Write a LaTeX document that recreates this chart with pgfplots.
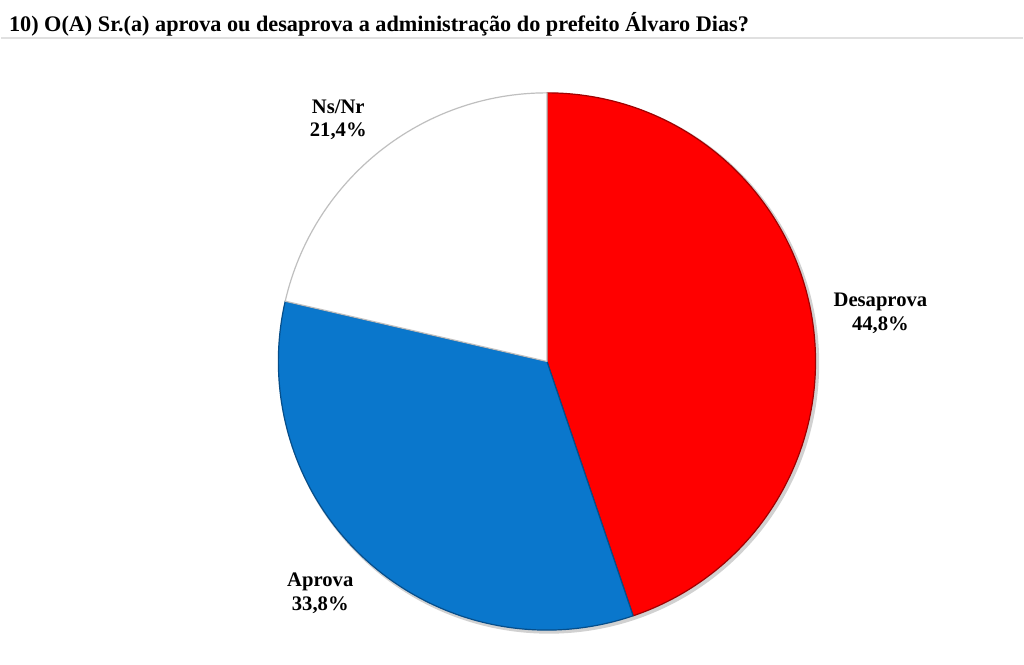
\documentclass[border=0pt]{standalone}
\usepackage{pgfplots}
\pgfplotsset{compat=1.18}
\usepackage{pgfplotstable}
\usepackage{fontspec}
\setmainfont{Liberation Serif}
\definecolor{pieRed}{HTML}{FF0000}
\definecolor{pieRedDark}{HTML}{A00000}
\definecolor{pieBlue}{HTML}{0A77CC}
\definecolor{pieBlueDark}{HTML}{064E8A}
\pgfplotstableread{
label value
Desaprova 44.8
Aprova 33.8
NsNr 21.4
}\piedata
\pgfplotstablegetelem{0}{value}\of\piedata \let\vA\pgfplotsretval
\pgfplotstablegetelem{1}{value}\of\piedata \let\vB\pgfplotsretval
\pgfplotstablegetelem{2}{value}\of\piedata \let\vC\pgfplotsretval
\pgfmathsetmacro{\aA}{90-3.6*\vA}
\pgfmathsetmacro{\aB}{\aA-3.6*\vB}
\pgfmathsetmacro{\aC}{\aB-3.6*\vC}
\begin{document}
\begin{tikzpicture}
\begin{axis}[
  x=0.75pt, y=0.75pt,
  xmin=0, xmax=1024, ymin=0, ymax=649,
  hide axis, clip=false,
]
\path (axis cs:0,0) rectangle (axis cs:1024,649);
% title rule
\draw[color=black!12, line width=1.2pt] (axis cs:0,611) -- (axis cs:1024,611);
\node[anchor=base west, font=\fontsize{16.7}{19}\selectfont\bfseries, inner sep=0pt]
  at (axis cs:8,617) {10) O(A) Sr.(a) aprova ou desaprova a administração do prefeito Álvaro Dias?};
% shadow
\fill[black!18] (axis cs:549,285) circle[radius=203pt];
% wedges
\filldraw[fill=pieRed, draw=pieRedDark, line width=0.9pt, line join=round]
  (axis cs:547,287) -- ++(90:201.75pt) arc[start angle=90, end angle=\aA, radius=201.75pt] -- cycle;
\filldraw[fill=pieBlue, draw=pieBlueDark, line width=0.9pt, line join=round]
  (axis cs:547,287) -- ++(\aA:201.75pt) arc[start angle=\aA, end angle=\aB, radius=201.75pt] -- cycle;
\filldraw[fill=white, draw=black!25, line width=0.9pt, line join=round]
  (axis cs:547,287) -- ++(\aB:201.75pt) arc[start angle=\aB, end angle=\aC, radius=201.75pt] -- cycle;
% labels
\node[align=center, font=\fontsize{15.5}{18}\selectfont\bfseries] at (axis cs:338,529) {Ns/Nr\\21,4\%};
\node[align=center, font=\fontsize{15.5}{18}\selectfont\bfseries] at (axis cs:881,335) {Desaprova\\44,8\%};
\node[align=center, font=\fontsize{15.5}{18}\selectfont\bfseries] at (axis cs:320,55) {Aprova\\33,8\%};
\end{axis}
\end{tikzpicture}
\end{document}
